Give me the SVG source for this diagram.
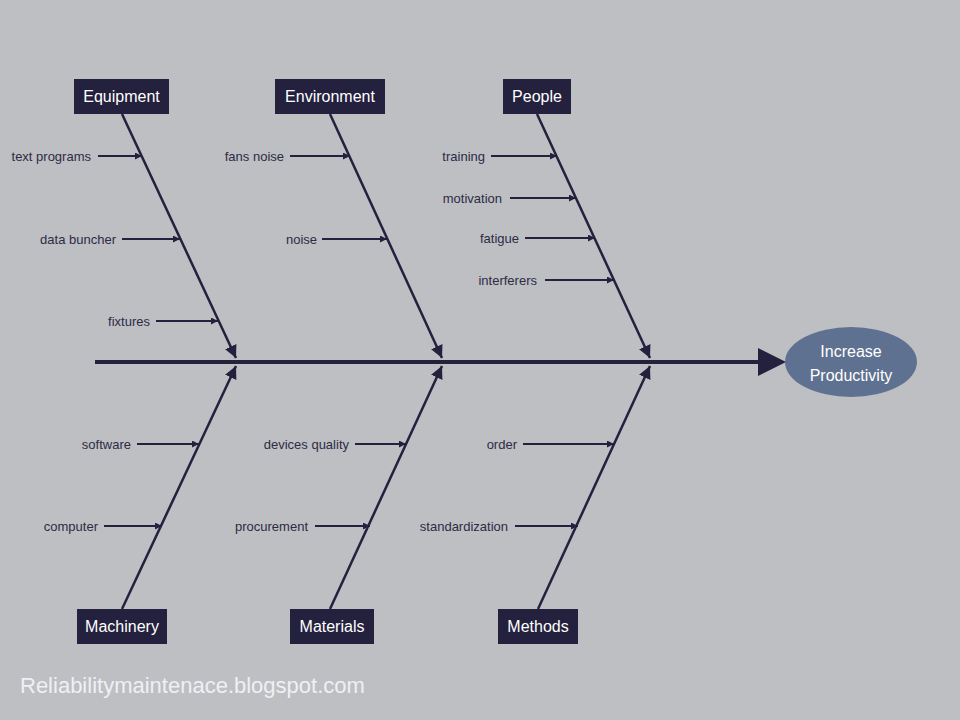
<svg xmlns="http://www.w3.org/2000/svg" width="960" height="720" viewBox="0 0 960 720">
<defs>
<marker id="a" viewBox="0 0 10 10" refX="10" refY="5" markerWidth="5" markerHeight="5" orient="auto"><path d="M0,0L10,5L0,10z" fill="#23213d"/></marker>
<marker id="b" viewBox="0 0 10 10" refX="10" refY="5" markerWidth="3.5" markerHeight="3.5" orient="auto"><path d="M0,0L10,5L0,10z" fill="#23213d"/></marker>
<style>
.box{fill:#23213d}
.bt{fill:#fff;font-family:"Liberation Sans",sans-serif;font-size:16px;text-anchor:middle}
.lb{fill:#2d2b45;font-family:"Liberation Sans",sans-serif;font-size:13px;text-anchor:end}
.bone{stroke:#23213d;stroke-width:2.5;fill:none;marker-end:url(#a)}
.sub{stroke:#23213d;stroke-width:2;fill:none;marker-end:url(#b)}
</style>
</defs>
<rect width="960" height="720" fill="#bebfc3"/>
<g id="connectors">
<line x1="95" y1="362" x2="760" y2="362" stroke="#23213d" stroke-width="4"/>
<path d="M758,348L786,362L758,376z" fill="#23213d"/>
<line class="bone" x1="122" y1="114" x2="236" y2="358"/>
<line class="bone" x1="330" y1="114" x2="442" y2="358"/>
<line class="bone" x1="537" y1="114" x2="650" y2="358"/>
<line class="bone" x1="122" y1="609" x2="236" y2="366"/>
<line class="bone" x1="330" y1="609" x2="442" y2="366"/>
<line class="bone" x1="538" y1="609" x2="650" y2="366"/>
<line class="sub" x1="98" y1="156" x2="142" y2="156"/>
<line class="sub" x1="122" y1="239" x2="180" y2="239"/>
<line class="sub" x1="156" y1="321" x2="218" y2="321"/>
<line class="sub" x1="290" y1="156" x2="350" y2="156"/>
<line class="sub" x1="322" y1="239" x2="387" y2="239"/>
<line class="sub" x1="491" y1="156" x2="557" y2="156"/>
<line class="sub" x1="510" y1="198" x2="576" y2="198"/>
<line class="sub" x1="525" y1="238" x2="595" y2="238"/>
<line class="sub" x1="545" y1="280" x2="614" y2="280"/>
<line class="sub" x1="137" y1="444" x2="199" y2="444"/>
<line class="sub" x1="104" y1="526" x2="162" y2="526"/>
<line class="sub" x1="355" y1="444" x2="406" y2="444"/>
<line class="sub" x1="315" y1="526" x2="370" y2="526"/>
<line class="sub" x1="523" y1="444" x2="614" y2="444"/>
<line class="sub" x1="515" y1="526" x2="578" y2="526"/>
</g>
<g id="labels">
<text class="lb" x="91" y="161">text programs</text>
<text class="lb" x="116" y="244">data buncher</text>
<text class="lb" x="150" y="326">fixtures</text>
<text class="lb" x="284" y="161">fans noise</text>
<text class="lb" x="317" y="244">noise</text>
<text class="lb" x="485" y="161">training</text>
<text class="lb" x="502" y="203">motivation</text>
<text class="lb" x="519" y="243">fatigue</text>
<text class="lb" x="537" y="285">interferers</text>
<text class="lb" x="131" y="449">software</text>
<text class="lb" x="98" y="531">computer</text>
<text class="lb" x="349" y="449">devices quality</text>
<text class="lb" x="308" y="531">procurement</text>
<text class="lb" x="517" y="449">order</text>
<text class="lb" x="508" y="531">standardization</text>
</g>
<g id="equipment"><rect class="box" x="74" y="79" width="95" height="35"/><text class="bt" x="121.5" y="102">Equipment</text></g>
<g id="environment"><rect class="box" x="275" y="79" width="110" height="35"/><text class="bt" x="330" y="102">Environment</text></g>
<g id="people"><rect class="box" x="503" y="79" width="68" height="35"/><text class="bt" x="537" y="102">People</text></g>
<g id="machinery"><rect class="box" x="77" y="609" width="90" height="35"/><text class="bt" x="122" y="632">Machinery</text></g>
<g id="materials"><rect class="box" x="290" y="609" width="84" height="35"/><text class="bt" x="332" y="632">Materials</text></g>
<g id="methods"><rect class="box" x="498" y="609" width="80" height="35"/><text class="bt" x="538" y="632">Methods</text></g>
<g id="effect"><ellipse cx="851" cy="362" rx="66" ry="35" fill="#5f7190"/><text class="bt" x="851" y="357" font-size="17">Increase</text><text class="bt" x="851" y="381" font-size="17">Productivity</text></g>
<text x="20" y="693" fill="#eef0f4" font-family="'Liberation Sans',sans-serif" font-size="22">Reliabilitymaintenace.blogspot.com</text>
</svg>
